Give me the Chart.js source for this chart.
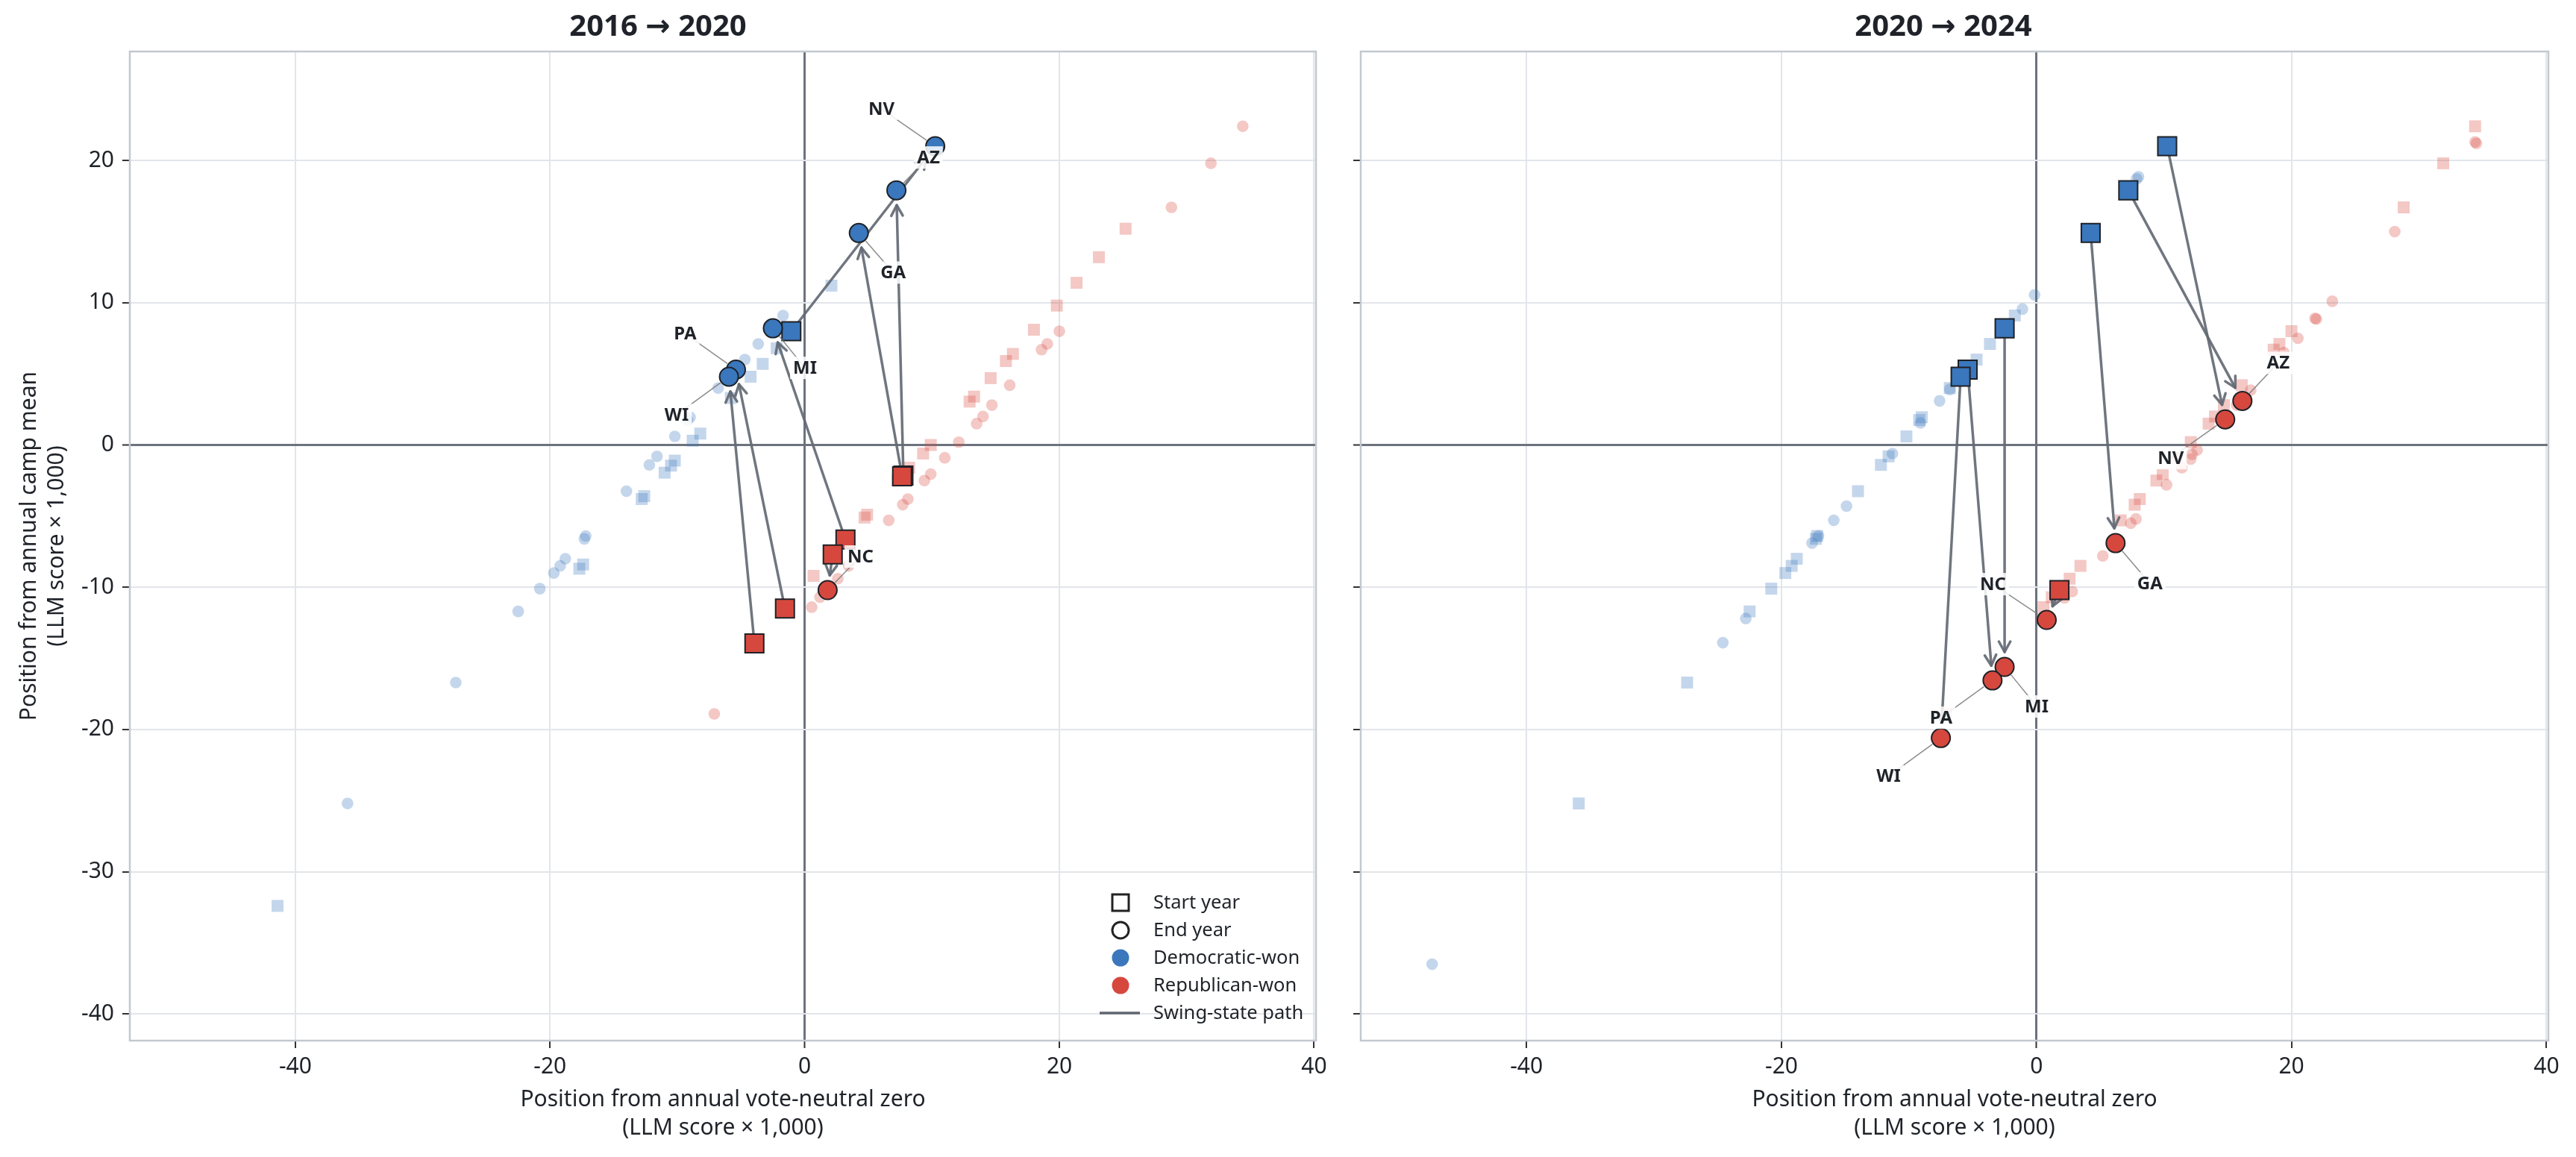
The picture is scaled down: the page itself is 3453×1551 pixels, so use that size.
<!DOCTYPE html>
<html>
<head>
<meta charset="utf-8">
<script src="https://cdn.jsdelivr.net/npm/chart.js@4.4.1/dist/chart.umd.min.js"></script>
<style>
  html, body { margin: 0; padding: 0; background: #fff; }
  #wrap { position: relative; width: 3453px; height: 1551px; }
  canvas { position: absolute; top: 0; }
  #c1 { left: 0; }
  #c2 { left: 1794px; }
</style>
</head>
<body>
<div id="wrap">
  <canvas id="c1" width="1794" height="1551"></canvas>
  <canvas id="c2" width="1659" height="1551"></canvas>
</div>
<script>
// ticks and titles
const xTicks = [-40, -20, 0, 20, 40];
const xTickLabels = ['-40', '-20', '0', '20', '40'];
const yTicks = [-40, -30, -20, -10, 0, 10, 20];
const yTickLabels = ['-40', '-30', '-20', '-10', '0', '10', '20'];
const panelTitles = ['2016 \u2192 2020', '2020 \u2192 2024'];
const xTitle = ['Position from annual vote-neutral zero', '(LLM score \u00d7 1,000)'];
const yTitle = ['Position from annual camp mean', '(LLM score \u00d7 1,000)'];
const legendLabels = ['Start year', 'End year', 'Democratic-won', 'Republican-won', 'Swing-state path'];

// background states [x, y], by year and winner (swing states listed separately)
const dem2016 = [[2.1, 11.2], [-2.2, 6.8], [-3.3, 5.7], [-4.25, 4.8], [-5.8, 3.3], [-8.2, 0.8], [-8.8, 0.3],
  [-10.2, -1.1], [-10.5, -1.45], [-11.0, -1.95], [-12.6, -3.6], [-12.8, -3.8], [-17.4, -8.4], [-17.7, -8.7], [-41.4, -32.4]];
const rep2016 = [[0.7, -9.2], [4.7, -5.1], [4.9, -4.9], [7.3, -2.5], [8.2, -1.6], [9.3, -0.6], [9.9, 0.0],
  [12.95, 3.05], [13.3, 3.4], [14.6, 4.7], [15.8, 5.9], [16.35, 6.4], [18.0, 8.1], [19.8, 9.8], [21.35, 11.4], [23.1, 13.2], [25.2, 15.2]];
const dem2020 = [[-1.7, 9.1], [-3.65, 7.1], [-4.7, 6.0], [-6.8, 4.0], [-9.2, 1.75], [-9.0, 1.95], [-10.2, 0.6],
  [-11.6, -0.8], [-12.2, -1.4], [-14.0, -3.25], [-17.2, -6.4], [-17.3, -6.6], [-18.8, -8.0], [-19.2, -8.5],
  [-19.7, -9.0], [-20.8, -10.1], [-22.5, -11.7], [-27.4, -16.7], [-35.9, -25.2]];
const rep2020 = [[-7.1, -18.9], [0.55, -11.4], [1.2, -10.7], [2.6, -9.4], [3.45, -8.5], [6.6, -5.3], [7.7, -4.2],
  [8.1, -3.8], [9.4, -2.5], [9.9, -2.05], [11.0, -0.9], [12.1, 0.2], [13.5, 1.5], [14.0, 2.0], [14.7, 2.8],
  [16.1, 4.2], [18.6, 6.7], [19.05, 7.1], [20.0, 8.0], [28.8, 16.7], [31.9, 19.8], [34.4, 22.4]];
const dem2024 = [[8.0, 18.85], [7.85, 18.7], [-0.15, 10.55], [-1.1, 9.55], [-6.8, 3.9], [-7.6, 3.1], [-9.1, 1.55],
  [-11.3, -0.6], [-14.9, -4.3], [-15.9, -5.3], [-17.1, -6.4], [-17.6, -6.9], [-22.8, -12.2], [-24.6, -13.9], [-47.4, -36.5]];
const rep2024 = [[2.2, -10.75], [2.8, -10.3], [5.2, -7.8], [7.4, -5.5], [7.8, -5.2], [10.2, -2.8], [11.4, -1.6],
  [12.1, -1.0], [12.2, -0.65], [12.6, -0.35], [15.7, 2.8], [16.8, 3.85], [19.4, 6.5], [20.5, 7.5], [21.85, 8.9],
  [21.95, 8.85], [23.2, 10.1], [28.1, 15.0], [34.4, 21.3], [34.5, 21.2]];

// swing states
const swingStates = ['AZ', 'GA', 'MI', 'NC', 'NV', 'PA', 'WI'];
const swing2016 = [[7.75, -2.15], [7.65, -2.2], [3.2, -6.65], [2.2, -7.7], [-1.05, 8.0], [-1.55, -11.5], [-3.95, -13.95]];
const swing2020 = [[7.2, 17.9], [4.25, 14.9], [-2.5, 8.2], [1.8, -10.2], [10.25, 21.0], [-5.4, 5.3], [-5.95, 4.8]];
const swing2024 = [[16.15, 3.1], [6.2, -6.9], [-2.5, -15.6], [0.8, -12.3], [14.8, 1.8], [-3.45, -16.55], [-7.5, -20.6]];
const won2016 = ['R', 'R', 'R', 'R', 'D', 'R', 'R'];
const won2020 = ['D', 'D', 'D', 'R', 'D', 'D', 'D'];
const won2024 = ['R', 'R', 'R', 'R', 'R', 'R', 'R'];

// label placement, pixel offset from the end-year marker
const labelOffsets = [
  { AZ: [43, -44], GA: [46, 53], MI: [43, 53], NC: [44, -45], NV: [-72, -50], PA: [-68, -48], WI: [-70, 51] },
  { AZ: [48, -51], GA: [46, 54], MI: [43, 53], NC: [-72, -48], NV: [-73, 52], PA: [-69, 50], WI: [-70, 51] }
];

const BLUE = '#3a77bc';
const RED = '#d6483e';
const BLUE_BG = 'rgba(58,119,188,0.3)';
const RED_BG = 'rgba(214,72,62,0.3)';
const TEXT = '#1f2329';
const FONT = "'Noto Sans', 'DejaVu Sans', sans-serif";

Chart.defaults.font.family = FONT;
Chart.defaults.color = TEXT;

const pts = arr => arr.map(([x, y]) => ({ x, y }));
const wonColor = w => (w === 'D' ? BLUE : RED);

function pathsPlugin(from, to) {
  return {
    id: 'paths',
    beforeDatasetDraw(chart, args) {
      if (args.index !== 1) return;
      const xs = chart.scales.x, ys = chart.scales.y, ctx = chart.ctx;
      ctx.save();
      ctx.strokeStyle = 'rgba(100,106,116,0.92)';
      ctx.lineWidth = 3.5;
      ctx.lineCap = 'round';
      ctx.lineJoin = 'round';
      from.forEach((p, i) => {
        const q = to[i];
        const x0 = xs.getPixelForValue(p[0]), y0 = ys.getPixelForValue(p[1]);
        const x1 = xs.getPixelForValue(q[0]), y1 = ys.getPixelForValue(q[1]);
        const len = Math.hypot(x1 - x0, y1 - y0);
        const ux = (x1 - x0) / len, uy = (y1 - y0) / len;
        const ex = x1 - ux * 20, ey = y1 - uy * 20;
        ctx.beginPath();
        ctx.moveTo(x0 + ux * 12, y0 + uy * 12);
        ctx.lineTo(ex, ey);
        ctx.stroke();
        const a = Math.atan2(uy, ux), h = 16, w = 0.5;
        ctx.beginPath();
        ctx.moveTo(ex - h * Math.cos(a - w), ey - h * Math.sin(a - w));
        ctx.lineTo(ex, ey);
        ctx.lineTo(ex - h * Math.cos(a + w), ey - h * Math.sin(a + w));
        ctx.stroke();
      });
      ctx.restore();
    }
  };
}

function labelsPlugin(at, offsets) {
  return {
    id: 'stateLabels',
    afterDatasetsDraw(chart) {
      const xs = chart.scales.x, ys = chart.scales.y, ctx = chart.ctx;
      ctx.save();
      ctx.font = 'bold 24px ' + FONT;
      ctx.textAlign = 'center';
      ctx.textBaseline = 'middle';
      swingStates.forEach((s, i) => {
        const px = xs.getPixelForValue(at[i][0]), py = ys.getPixelForValue(at[i][1]);
        const [dx, dy] = offsets[s];
        const lx = px + dx, ly = py + dy;
        const len = Math.hypot(dx, dy);
        ctx.strokeStyle = 'rgba(120,120,120,0.85)';
        ctx.lineWidth = 1.5;
        ctx.beginPath();
        ctx.moveTo(lx, ly);
        ctx.lineTo(px + dx / len * 14, py + dy / len * 14);
        ctx.stroke();
        const tw = ctx.measureText(s).width;
        ctx.fillStyle = 'rgba(255,255,255,0.85)';
        ctx.fillRect(lx - tw / 2 - 4, ly - 15, tw + 8, 30);
        ctx.fillStyle = TEXT;
        ctx.fillText(s, lx, ly + 1);
      });
      ctx.restore();
    }
  };
}

const framePlugin = {
  id: 'frame',
  afterDraw(chart) {
    const { left, top, width, height } = chart.chartArea, ctx = chart.ctx;
    ctx.save();
    ctx.strokeStyle = '#c3c8cf';
    ctx.lineWidth = 2.5;
    ctx.strokeRect(left, top, width, height);
    ctx.restore();
  }
};

const legendPlugin = {
  id: 'keyBox',
  afterDraw(chart) {
    const ca = chart.chartArea, ctx = chart.ctx;
    const mx = ca.right - 262, tx = ca.right - 218, y0 = ca.bottom - 185, step = 37;
    ctx.save();
    ctx.lineWidth = 3;
    ctx.strokeStyle = '#222';
    ctx.strokeRect(mx - 11, y0 - 11, 22, 22);
    ctx.beginPath(); ctx.arc(mx, y0 + step, 11, 0, Math.PI * 2); ctx.stroke();
    ctx.fillStyle = BLUE;
    ctx.beginPath(); ctx.arc(mx, y0 + step * 2, 11.5, 0, Math.PI * 2); ctx.fill();
    ctx.fillStyle = RED;
    ctx.beginPath(); ctx.arc(mx, y0 + step * 3, 11.5, 0, Math.PI * 2); ctx.fill();
    ctx.strokeStyle = '#5f6670';
    ctx.lineWidth = 3.5;
    ctx.beginPath(); ctx.moveTo(mx - 28, y0 + step * 4); ctx.lineTo(mx + 26, y0 + step * 4); ctx.stroke();
    ctx.fillStyle = TEXT;
    ctx.font = '25.5px ' + FONT;
    ctx.textAlign = 'left';
    ctx.textBaseline = 'middle';
    legendLabels.forEach((t, i) => ctx.fillText(t, tx, y0 + step * i + 1));
    ctx.restore();
  }
};

const gridColor = c => (c.tick && c.tick.value === 0 ? '#6d737d' : '#e2e5ea');
const gridWidth = c => (c.tick && c.tick.value === 0 ? 3 : 2);

function makePanel(canvas, p) {
  const plugins = [pathsPlugin(p.from, p.to), labelsPlugin(p.to, p.offsets), framePlugin];
  if (p.legend) plugins.push(legendPlugin);
  return new Chart(canvas, {
    type: 'scatter',
    data: {
      datasets: [
        {
          label: 'End', data: pts(p.to), pointStyle: 'circle', pointRadius: 12.5,
          backgroundColor: p.wonTo.map(wonColor), borderColor: '#1e2127', borderWidth: 2
        },
        {
          label: 'Start', data: pts(p.from), pointStyle: 'rect', pointRadius: 17.7,
          backgroundColor: p.wonFrom.map(wonColor), borderColor: '#1e2127', borderWidth: 2
        },
        { label: 'End D', data: pts(p.endDem), pointStyle: 'circle', pointRadius: 7.8, backgroundColor: BLUE_BG, borderWidth: 0 },
        { label: 'End R', data: pts(p.endRep), pointStyle: 'circle', pointRadius: 7.8, backgroundColor: RED_BG, borderWidth: 0 },
        { label: 'Start D', data: pts(p.startDem), pointStyle: 'rect', pointRadius: 11.3, backgroundColor: BLUE_BG, borderWidth: 0 },
        { label: 'Start R', data: pts(p.startRep), pointStyle: 'rect', pointRadius: 11.3, backgroundColor: RED_BG, borderWidth: 0 }
      ]
    },
    options: {
      responsive: false,
      animation: false,
      devicePixelRatio: 1,
      layout: { padding: { left: 0, right: p.padRight, top: 0, bottom: 0 } },
      plugins: {
        legend: { display: false },
        tooltip: { enabled: false },
        title: {
          display: true, text: p.title, color: TEXT,
          font: { size: 40, weight: 'bold', lineHeight: 1.2 },
          padding: { top: 13, bottom: 8 }
        }
      },
      scales: {
        x: {
          type: 'linear', min: -53, max: 40.15,
          afterBuildTicks: s => { s.ticks = xTicks.map(v => ({ value: v })); },
          afterFit: s => { s.height = 156; },
          ticks: { callback: (v, i) => xTickLabels[i], font: { size: 30 }, color: TEXT, padding: 7, maxRotation: 0, autoSkip: false },
          grid: { color: gridColor, lineWidth: gridWidth, tickColor: '#333', tickWidth: 2, tickLength: 10 },
          border: { display: false },
          title: {
            display: true, text: xTitle, color: TEXT,
            font: { size: 30, lineHeight: 38 / 30 }, padding: { top: 0, bottom: 20 }
          }
        },
        y: {
          type: 'linear', min: -41.87, max: 27.66,
          afterBuildTicks: s => { s.ticks = yTicks.map(v => ({ value: v })); },
          afterFit: s => { s.width = p.yWidth; },
          ticks: { display: p.showY, callback: (v, i) => yTickLabels[i], font: { size: 30 }, color: TEXT, padding: 11, autoSkip: false },
          grid: { color: gridColor, lineWidth: gridWidth, tickColor: '#333', tickWidth: 2, tickLength: 10 },
          border: { display: false },
          title: {
            display: p.showY, text: yTitle, color: TEXT,
            font: { size: 30, lineHeight: 37 / 30 }, padding: { top: 21, bottom: 0 }
          }
        }
      }
    },
    plugins
  });
}

makePanel(document.getElementById('c1'), {
  title: panelTitles[0],
  from: swing2016, to: swing2020, wonFrom: won2016, wonTo: won2020,
  startDem: dem2016, startRep: rep2016, endDem: dem2020, endRep: rep2020,
  offsets: labelOffsets[0], showY: true, yWidth: 174, padRight: 30, legend: true
});

makePanel(document.getElementById('c2'), {
  title: panelTitles[1],
  from: swing2020, to: swing2024, wonFrom: won2020, wonTo: won2024,
  startDem: dem2020, startRep: rep2020, endDem: dem2024, endRep: rep2024,
  offsets: labelOffsets[1], showY: false, yWidth: 30, padRight: 37, legend: false
});
</script>
</body>
</html>
